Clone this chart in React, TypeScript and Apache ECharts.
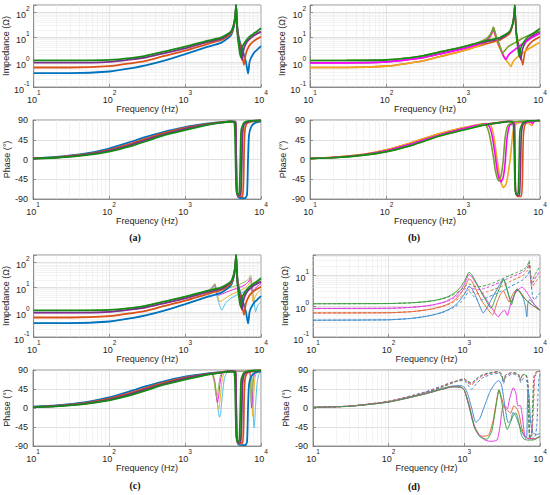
import React, { useEffect, useRef } from 'react';
import * as echarts from 'echarts';

// ---------- tick values ----------
const FREQ_MINOR = [20, 30, 40, 50, 60, 70, 80, 90, 200, 300, 400, 500, 600, 700, 800, 900, 2000, 3000, 4000, 5000, 6000, 7000, 8000, 9000];
const IMP_MINOR = [0.2, 0.3, 0.4, 0.5, 0.6, 0.7, 0.8, 0.9, 2, 3, 4, 5, 6, 7, 8, 9, 20, 30, 40, 50, 60, 70, 80, 90];
const IMP_MINOR_D = [0.2, 0.3, 0.4, 0.5, 0.6, 0.7, 0.8, 0.9, 2, 3, 4, 5, 6, 7, 8, 9, 20, 30, 40];
const CAPTIONS = ['(a)', '(b)', '(c)', '(d)'];

// ---------- panel (a) & shared solid curves: impedance [Hz, Ohm] ----------
const IMP_BLUE = [[10,0.36],[30,0.36],[100,0.42],[200,0.58],[300,0.74],[500,1.1],[1000,2.1],[2000,4.2],[3000,6.1],[4000,12],[4400,28],[4600,75],[4690,185],[4760,70],[4900,20],[5200,7.5],[5700,3],[6300,1.1],[6750,0.35],[7100,1.1],[8000,2.3],[9000,3.3],[10000,4.4]];
const IMP_ORANGE = [[10,0.61],[30,0.61],[100,0.69],[200,0.92],[300,1.13],[500,1.7],[1000,2.9],[2000,5.5],[3000,7.8],[4000,14],[4400,31],[4600,80],[4690,190],[4760,72],[4900,18],[5200,6],[5600,2],[5960,0.78],[6300,2.2],[7000,4.6],[8000,7],[9000,8.8],[10000,10.5]];
const IMP_PURPLE = [[10,0.95],[30,0.95],[100,1.03],[200,1.3],[300,1.54],[500,2.2],[1000,3.6],[2000,6.5],[3000,8.8],[4000,16],[4400,34],[4600,85],[4690,195],[4760,75],[4900,16],[5200,4.5],[5600,1.25],[5900,3.2],[6500,6.5],[7500,10],[8500,13],[10000,17]];
const IMP_GREEN = [[10,1.17],[30,1.18],[100,1.24],[200,1.5],[300,1.8],[500,2.6],[1000,4.2],[2000,7.3],[3000,9.9],[4000,17],[4400,36],[4600,90],[4690,200],[4760,78],[4900,13],[5100,4.5],[5370,1.6],[5600,3.6],[6000,5.8],[7000,10.5],[8000,14],[9000,18],[10000,23]];

// phase [Hz, deg]
const PH_BLUE = [[10,3],[20,6],[50,14],[100,25],[200,41],[300,51],[500,62],[1000,74],[2000,82],[3000,85],[4000,87],[4600,86],[4690,40],[4760,-40],[4850,-78],[5100,-87],[6200,-88],[6550,-80],[6750,0],[6950,55],[7500,76],[8500,84],[10000,87]];
const PH_ORANGE = [[10,2.5],[20,5],[50,12],[100,22],[200,37],[300,47],[500,59],[1000,72],[2000,81],[3000,85],[4000,87],[4600,86],[4690,30],[4760,-50],[4850,-78],[5100,-84],[5700,-84],[5880,-50],[5960,0],[6100,60],[6500,82],[8000,87],[10000,89]];
const PH_PURPLE = [[10,2.2],[20,4.5],[50,11],[100,20],[200,34],[300,44],[500,56],[1000,70],[2000,80],[3000,84],[4000,87],[4600,85],[4690,25],[4760,-55],[4850,-77],[5100,-82],[5400,-80],[5530,-40],[5600,0],[5700,55],[6000,80],[7000,87],[10000,89]];
const PH_GREEN = [[10,2],[20,4],[50,10],[100,18],[200,31],[300,41],[500,54],[1000,67],[2000,79],[3000,84],[4000,86],[4450,84],[4560,50],[4650,-20],[4760,-72],[5000,-80],[5200,-76],[5300,-30],[5370,15],[5500,68],[6000,84],[7000,88],[10000,89]];

// ---------- panel (b) extra curves ----------
const IMP_OLIVE_B = [[10,1.17],[30,1.18],[100,1.24],[200,1.5],[300,1.8],[500,2.6],[1000,4.2],[1500,5.9],[2000,8.8],[2250,13],[2400,20],[2470,26],[2560,18],[2720,10],[3000,4.5],[3250,2.3],[3500,3],[3850,4.2],[4700,6],[5500,8],[6300,10],[8000,14],[10000,18.5]];
const IMP_MAGENTA_B = [[10,0.93],[30,0.94],[100,1.02],[200,1.28],[300,1.52],[500,2.15],[1000,3.5],[1500,5],[2000,7.6],[2250,11.5],[2400,18],[2470,24],[2560,16],[2750,8],[3100,3.2],[3400,1.6],[3600,1.3],[3900,2],[4700,3.2],[5500,4.6],[6300,6.2],[8000,10],[10000,14.5]];
const IMP_YELLOW_B = [[10,0.61],[30,0.61],[100,0.69],[200,0.92],[300,1.13],[500,1.7],[1000,2.9],[1500,4.3],[2000,6.6],[2250,10.5],[2400,16.5],[2470,22],[2560,14],[2750,6.5],[3100,2.8],[3500,1.4],[3850,0.95],[4150,0.67],[4500,1.1],[5200,1.7],[6000,2.4],[7000,3.3],[8500,4.8],[10000,6.3]];
const PH_OLIVE_B = [[10,2],[20,4],[50,10],[100,18],[200,31],[300,41],[500,54],[1000,67],[1500,76],[1800,81],[2000,77],[2150,62],[2300,38],[2470,5],[2650,-30],[2900,-49],[3100,-38],[3300,-5],[3500,48],[3800,77],[4500,86],[10000,89]];
const PH_MAGENTA_B = [[10,2.2],[20,4.5],[50,11],[100,20],[200,34],[300,44],[500,56],[1000,70],[1500,78],[2000,81],[2200,74],[2400,50],[2600,10],[2800,-30],[3080,-51],[3300,-42],[3500,-10],[3700,45],[4000,77],[5000,86],[7500,86],[8000,82],[8500,88],[10000,89]];
const PH_YELLOW_B = [[10,2.5],[20,5],[50,12],[100,22],[200,37],[300,47],[500,59],[1000,72],[1500,79],[2000,82],[2300,76],[2500,52],[2700,12],[3000,-40],[3330,-64],[3600,-57],[3850,-30],[4150,10],[4400,58],[4800,80],[6000,86],[7000,84],[7800,77],[8300,88],[10000,89]];

// ---------- panel (c) extra (thin) curves ----------
const IMP_LBLUE_C = [[10,0.36],[30,0.36],[100,0.42],[200,0.58],[300,0.74],[500,1.1],[1000,2.1],[2000,4.4],[2300,7],[2460,12],[2560,6],[2750,2.6],[3040,1.2],[3400,2.3],[4000,3.6],[5000,5.2],[6000,6.8],[6800,8],[7500,11],[7900,5],[8500,1.05],[9000,1.8],[10000,2.6]];
const IMP_YELLOW_C = [[10,0.61],[30,0.61],[100,0.69],[200,0.92],[300,1.13],[500,1.7],[1000,2.9],[2000,5.7],[2300,9],[2460,13],[2560,7.5],[2870,2.6],[3300,3.5],[4000,5],[5000,6.8],[6000,9],[6800,12.5],[7300,19],[7550,9],[7800,2.6],[8300,4],[9000,6],[10000,8]];
const IMP_MAGENTA_C = [[10,0.95],[30,0.95],[100,1.03],[200,1.3],[300,1.54],[500,2.2],[1000,3.6],[2000,6.7],[2300,10],[2460,13.5],[2560,8.5],[2760,4.8],[3100,5.5],[4000,7.5],[5000,9.5],[6000,12],[6800,16.5],[7300,24],[7500,12],[7700,6.5],[8200,8.5],[9000,11],[10000,14.5]];
const IMP_LGREEN_C = [[10,1.17],[30,1.18],[100,1.24],[200,1.5],[300,1.8],[500,2.6],[1000,4.2],[2000,7.5],[2300,11],[2460,14],[2560,10],[2690,6.9],[3000,7.8],[4000,10],[5000,12.5],[6000,16],[6800,21],[7300,30],[7500,20],[7750,12],[8200,13],[9000,16],[10000,20]];
const PH_LBLUE_C = [[10,3],[20,6],[50,14],[100,25],[200,41],[300,51],[500,62],[1000,74],[2000,82],[2250,83],[2450,65],[2600,30],[2750,-10],[2850,-22],[2950,-10],[3100,30],[3300,70],[3600,84],[5000,87],[7000,86],[7500,70],[7800,10],[8000,-35],[8100,-47],[8250,-35],[8500,10],[8900,60],[9400,80],[10000,86]];
const PH_YELLOW_C = [[10,2.5],[20,5],[50,12],[100,22],[200,37],[300,47],[500,59],[1000,72],[2000,81],[2250,83],[2450,68],[2600,30],[2700,5],[2780,-3],[2880,15],[3050,60],[3300,83],[5000,87],[7000,86],[7350,60],[7600,5],[7750,-20],[7900,0],[8200,60],[8700,84],[10000,88]];
const PH_MAGENTA_C = [[10,2.2],[20,4.5],[50,11],[100,20],[200,34],[300,44],[500,56],[1000,70],[2000,80],[2250,83],[2430,65],[2570,30],[2680,13],[2780,30],[2950,70],[3200,85],[5000,87],[7000,86],[7300,55],[7500,0],[7650,15],[7900,65],[8400,85],[10000,88]];
const PH_LGREEN_C = [[10,2],[20,4],[50,10],[100,18],[200,31],[300,41],[500,54],[1000,67],[2000,79],[2200,83],[2400,65],[2530,35],[2620,25],[2720,40],[2880,72],[3100,85],[5000,87],[7000,86],[7250,55],[7420,12],[7570,30],[7800,70],[8200,85],[10000,88]];

// ---------- panel (d): solid ----------
const IMP_BLUE_D = [[10,0.35],[100,0.36],[200,0.4],[300,0.46],[400,0.53],[500,0.62],[600,0.75],[700,0.92],[800,1.2],[900,1.7],[1000,2.4],[1080,3.4],[1150,4.3],[1250,3.8],[1400,2.2],[1600,1.0],[1780,0.6],[2000,0.9],[2300,1.7],[2700,3.5],[3000,5.5],[3270,7.6],[3500,5],[3800,2.5],[4250,1.35],[4600,2.4],[5000,3.5],[5400,3],[6000,1.8],[6400,1],[6700,0.45],[6900,1.2],[7300,1.6],[8500,1.1],[10000,0.72]];
const IMP_ORANGE_D = [[10,0.6],[100,0.61],[200,0.66],[300,0.74],[400,0.84],[500,0.97],[600,1.15],[700,1.4],[800,1.85],[900,2.6],[1000,3.9],[1080,5.8],[1150,7.6],[1250,6.5],[1400,3.8],[1700,1.5],[2000,0.85],[2370,0.52],[2700,1.3],[3000,2.4],[3270,3.1],[3600,2],[3900,1.35],[4400,2.5],[5000,3.6],[5600,2.7],[6500,1.6],[8000,1.05],[10000,0.74]];
const IMP_MAGENTA_D = [[10,0.84],[100,0.85],[200,0.91],[300,1.0],[400,1.12],[500,1.28],[600,1.5],[700,1.85],[800,2.4],[900,3.4],[1000,5.1],[1080,7.8],[1150,10.5],[1250,9],[1400,5.8],[1700,2.8],[2000,1.5],[2400,0.75],[2800,0.45],[3100,0.62],[3400,0.73],[3700,0.5],[4100,1.2],[4700,2.6],[5300,3.6],[5800,4.1],[6500,3.1],[7500,1.8],[8500,1.1],[10000,0.74]];
const IMP_GREEN_D = [[10,1.19],[100,1.21],[200,1.28],[300,1.38],[400,1.52],[500,1.72],[600,2.0],[700,2.45],[800,3.1],[900,4.3],[1000,6.3],[1080,9.5],[1150,12.5],[1250,10.5],[1400,6.5],[1700,2.6],[2000,1.3],[2250,0.85],[2600,1.9],[3000,4.5],[3300,7.5],[3600,4.2],[4000,1.6],[4200,1.1],[4500,2],[4950,3.5],[5500,2.6],[6500,1.6],[8000,1.05],[10000,0.74]];
// panel (d): dashed
const IMP_BLUE_DD = [[10,0.35],[100,0.36],[200,0.4],[300,0.46],[400,0.53],[500,0.61],[600,0.72],[700,0.86],[800,1.05],[900,1.35],[1000,1.8],[1150,3.0],[1300,2.2],[1500,1.6],[1750,1.6],[2000,1.9],[2500,2.4],[3000,3],[3300,3.2],[3500,3.5],[4000,4.2],[5000,5.6],[6000,7.2],[6800,10],[7300,14],[7600,6],[8000,2],[8500,1.6],[9200,2.1],[10000,2.7]];
const IMP_ORANGE_DD = [[10,0.6],[100,0.61],[200,0.66],[300,0.74],[400,0.83],[500,0.95],[600,1.1],[700,1.3],[800,1.6],[900,2.0],[1000,2.6],[1150,3.4],[1300,2.8],[1500,2.5],[1750,2.6],[2000,2.9],[2500,3.5],[3000,4.2],[3300,4.6],[3500,5.1],[4000,6.2],[5000,8],[6000,10],[6800,14],[7200,23],[7500,8],[7800,4],[8500,5.5],[9200,7.2],[10000,9.3]];
const IMP_MAGENTA_DD = [[10,0.84],[100,0.85],[200,0.91],[300,1.0],[400,1.11],[500,1.25],[600,1.45],[700,1.72],[800,2.1],[900,2.7],[1000,3.5],[1150,4.3],[1300,3.7],[1500,3.4],[1750,3.6],[2000,4],[2500,4.9],[3000,6],[3300,6.6],[3500,7.2],[4000,8.3],[5000,10.5],[6000,12.8],[6800,17],[7200,26],[7500,10],[7800,5],[8500,7.5],[9200,10],[10000,14]];
const IMP_GREEN_DD = [[10,1.19],[100,1.21],[200,1.28],[300,1.38],[400,1.5],[500,1.68],[600,1.92],[700,2.25],[800,2.7],[900,3.3],[1000,4.2],[1150,5.2],[1300,4.5],[1500,4.2],[1750,4.4],[2000,4.8],[2500,5.8],[3000,7.2],[3300,8],[3500,8.6],[4000,9.8],[5000,12.5],[6000,15],[6800,20],[7200,30],[7500,12],[7800,6],[8500,10],[9200,14],[10000,19.5]];

const PH_BLUE_D = [[10,1.5],[30,4.5],[100,15],[300,35],[500,46],[700,52],[900,53],[1000,49],[1100,35],[1250,0],[1420,-34],[1600,-25],[1850,5],[2200,40],[2600,60],[2850,65],[3100,55],[3300,25],[3500,-5],[3800,-35],[4100,-30],[4400,-10],[4800,-20],[5300,-40],[5900,-60],[6500,-72],[6700,-65],[6800,0],[6950,45],[7150,30],[7500,-30],[8000,-58],[9000,-63],[10000,-60]];
const PH_ORANGE_D = [[10,1.5],[30,4.5],[100,15],[300,34],[500,45],[700,51],[900,50],[1000,42],[1150,10],[1350,-40],[1550,-62],[1750,-67],[2100,-64],[2400,-30],[2650,15],[2870,43],[3100,25],[3400,0],[3700,-5],[4100,-12],[4500,5],[4900,0],[5300,-15],[5700,-45],[6200,-65],[7000,-72],[8500,-73],[10000,-68]];
const PH_GREEN_D = [[10,1.5],[30,4],[100,14],[300,33],[500,44],[700,50],[900,49],[1000,42],[1150,5],[1350,-45],[1600,-68],[1980,-74],[2300,-55],[2600,0],[2870,43],[3100,18],[3400,-30],[3700,-51],[4100,-32],[4500,-15],[4800,-12],[5200,-30],[5700,-65],[6200,-74],[7000,-76],[8500,-75],[10000,-66]];
const PH_MAGENTA_D = [[10,1.5],[30,4],[100,14],[300,33],[500,44],[700,50],[900,49],[1000,42],[1150,5],[1400,-50],[1800,-74],[2200,-79],[2700,-76],[2950,-45],[3200,0],[3450,5],[3700,-2],[4000,25],[4450,48],[4800,35],[5100,5],[5500,6],[5800,-15],[6300,-65],[7000,-73],[8500,-73],[10000,-68]];
const PH_BLUE_DD = [[10,1.5],[30,4.5],[100,16],[300,38],[500,52],[700,62],[1000,65],[1100,55],[1250,45],[1450,58],[1700,70],[2200,79],[2800,82],[3100,76],[3300,58],[3500,72],[4000,78],[4500,80],[5200,75],[5600,60],[6000,70],[6600,66],[7000,30],[7200,-40],[7500,-72],[8500,-70],[9100,-40],[9400,30],[9700,70],[10000,80]];
const PH_ORANGE_DD = [[10,1.5],[30,4.5],[100,16],[300,37],[500,51],[700,61],[1000,68],[1100,60],[1250,55],[1450,66],[1700,75],[2200,82],[2800,85],[3100,79],[3300,62],[3500,76],[4000,81],[4500,82],[5200,78],[5500,65],[5800,76],[6500,76],[7000,50],[7200,-30],[7400,-70],[7800,-65],[8200,0],[8500,70],[9000,84],[10000,88]];
const PH_MAGENTA_DD = [[10,1.5],[30,4],[100,15],[300,36],[500,50],[700,60],[1000,69],[1100,62],[1250,58],[1450,68],[1700,77],[2200,83],[2800,86],[3100,80],[3300,63],[3500,77],[4000,82],[4500,83],[5200,79],[5500,66],[5800,77],[6500,78],[6950,55],[7150,-30],[7350,-72],[7700,-65],[8100,0],[8400,72],[9000,85],[10000,88]];
const PH_GREEN_DD = [[10,1.5],[30,4],[100,15],[300,35],[500,49],[700,59],[1000,70],[1100,63],[1250,60],[1450,70],[1700,78],[2200,84],[2800,86],[3100,81],[3300,64],[3500,78],[4000,83],[4500,84],[5200,80],[5500,68],[5800,78],[6500,80],[6900,60],[7100,-35],[7300,-73],[7700,-62],[8000,10],[8300,75],[9000,86],[10000,88]];

// ---------- styling ----------
const FONT = '"Liberation Sans", Arial, Helvetica, sans-serif';
const TXT = '#262626';
const AXC = '#7a7a7a';
const C = {
  blue: '#0072BD', orange: '#D95319', purple: '#7E2F8E', green: '#158A15',
  olive: '#6FA52B', magenta: '#FF00FF', yellow: '#F0A81A',
  lblue: '#4DBEEE', yellowC: '#EDB120', magentaC: '#E520E5', lgreen: '#8CC350',
  blueD: '#3E8ED0', orangeD: '#E2683C', magentaD: '#E33FE3', greenD: '#3E9E3E',
};

const RICH = {
  b: { fontSize: 9, fontFamily: FONT, color: TXT, lineHeight: 15, verticalAlign: 'bottom' },
  s: { fontSize: 6.5, fontFamily: FONT, color: TXT, lineHeight: 8, verticalAlign: 'top' },
};
function supLabel(v: number) {
  const e = Math.log10(v);
  const r = Math.round(e);
  if (Math.abs(e - r) > 1e-6) return '';
  return `{b|10}{s|${r}}`;
}

type Line = { d: number[][]; c: string; w: number; dash?: boolean };

const GRIDS = [
  { left: 33, top: 5, width: 228, height: 82, kind: 'imp', max: 200 },
  { left: 33, top: 120, width: 228, height: 79, kind: 'ph' },
  { left: 310, top: 5, width: 230, height: 82, kind: 'imp', max: 200 },
  { left: 310, top: 120, width: 230, height: 79, kind: 'ph' },
  { left: 33, top: 255, width: 228, height: 82, kind: 'imp', max: 200 },
  { left: 33, top: 370, width: 228, height: 76, kind: 'ph' },
  { left: 313, top: 255, width: 227, height: 82, kind: 'imp', max: 45 },
  { left: 313, top: 370, width: 227, height: 76, kind: 'ph' },
];

const W1 = 1.8;
const W2 = 1.6;
const LINES: Line[][] = [
  [
    { d: IMP_BLUE, c: C.blue, w: W1 }, { d: IMP_ORANGE, c: C.orange, w: W1 },
    { d: IMP_PURPLE, c: C.purple, w: W1 }, { d: IMP_GREEN, c: C.green, w: W1 },
  ],
  [
    { d: PH_BLUE, c: C.blue, w: W1 }, { d: PH_ORANGE, c: C.orange, w: W1 },
    { d: PH_PURPLE, c: C.purple, w: W1 }, { d: PH_GREEN, c: C.green, w: W1 },
  ],
  [
    { d: IMP_ORANGE, c: C.orange, w: W2 }, { d: IMP_YELLOW_B, c: C.yellow, w: W2 },
    { d: IMP_PURPLE, c: C.purple, w: W2 }, { d: IMP_MAGENTA_B, c: C.magenta, w: W2 },
    { d: IMP_OLIVE_B, c: C.olive, w: W2 }, { d: IMP_GREEN, c: C.green, w: W2 },
  ],
  [
    { d: PH_ORANGE, c: C.orange, w: W2 }, { d: PH_YELLOW_B, c: C.yellow, w: W2 },
    { d: PH_PURPLE, c: C.purple, w: W2 }, { d: PH_MAGENTA_B, c: C.magenta, w: W2 },
    { d: PH_OLIVE_B, c: C.olive, w: W2 }, { d: PH_GREEN, c: C.green, w: W2 },
  ],
  [
    { d: IMP_LBLUE_C, c: C.lblue, w: 1 }, { d: IMP_YELLOW_C, c: C.yellowC, w: 1 },
    { d: IMP_MAGENTA_C, c: C.magentaC, w: 1 }, { d: IMP_LGREEN_C, c: C.lgreen, w: 1 },
    { d: IMP_BLUE, c: C.blue, w: W1 }, { d: IMP_ORANGE, c: C.orange, w: W1 },
    { d: IMP_PURPLE, c: C.purple, w: W1 }, { d: IMP_GREEN, c: C.green, w: W1 },
  ],
  [
    { d: PH_LBLUE_C, c: C.lblue, w: 1 }, { d: PH_YELLOW_C, c: C.yellowC, w: 1 },
    { d: PH_MAGENTA_C, c: C.magentaC, w: 1 }, { d: PH_LGREEN_C, c: C.lgreen, w: 1 },
    { d: PH_BLUE, c: C.blue, w: W1 }, { d: PH_ORANGE, c: C.orange, w: W1 },
    { d: PH_PURPLE, c: C.purple, w: W1 }, { d: PH_GREEN, c: C.green, w: W1 },
  ],
  [
    { d: IMP_BLUE_DD, c: C.blueD, w: 1, dash: true }, { d: IMP_ORANGE_DD, c: C.orangeD, w: 1, dash: true },
    { d: IMP_MAGENTA_DD, c: C.magentaD, w: 1, dash: true }, { d: IMP_GREEN_DD, c: C.greenD, w: 1, dash: true },
    { d: IMP_BLUE_D, c: C.blueD, w: 1 }, { d: IMP_ORANGE_D, c: C.orangeD, w: 1 },
    { d: IMP_MAGENTA_D, c: C.magentaD, w: 1 }, { d: IMP_GREEN_D, c: C.greenD, w: 1 },
  ],
  [
    { d: PH_BLUE_DD, c: C.blueD, w: 1, dash: true }, { d: PH_ORANGE_DD, c: C.orangeD, w: 1, dash: true },
    { d: PH_MAGENTA_DD, c: C.magentaD, w: 1, dash: true }, { d: PH_GREEN_DD, c: C.greenD, w: 1, dash: true },
    { d: PH_BLUE_D, c: C.blueD, w: 1 }, { d: PH_ORANGE_D, c: C.orangeD, w: 1 },
    { d: PH_MAGENTA_D, c: C.magentaD, w: 1 }, { d: PH_GREEN_D, c: C.greenD, w: 1 },
  ],
];

function buildOption() {
  const grid = GRIDS.map((g) => ({
    left: g.left, top: g.top, width: g.width, height: g.height,
    show: true, borderColor: AXC, borderWidth: 0.8, backgroundColor: 'transparent',
  }));
  const xAxis = GRIDS.map((g, i) => ({
    type: 'log', logBase: 10, gridIndex: i, min: 10, max: 10000, position: 'bottom',
    name: 'Frequency (Hz)', nameLocation: 'middle', nameGap: 16,
    nameTextStyle: { fontSize: 9, color: TXT, fontFamily: FONT },
    axisLine: { show: true, onZero: false, lineStyle: { color: AXC, width: 0.8 } },
    axisTick: { show: true, inside: true, length: 3, lineStyle: { color: AXC, width: 0.8 } },
    axisLabel: { margin: 2, formatter: supLabel, rich: RICH, showMinLabel: true, showMaxLabel: true },
    splitLine: { show: true, lineStyle: { color: '#d4d4d4', width: 0.7 } },
  }));
  const yAxis = GRIDS.map((g, i) => {
    const base = {
      gridIndex: i, nameLocation: 'middle', position: 'left',
      nameTextStyle: { fontSize: 9, color: TXT, fontFamily: FONT },
      axisLine: { show: true, onZero: false, lineStyle: { color: AXC, width: 0.8 } },
      axisTick: { show: true, inside: true, length: 3, lineStyle: { color: AXC, width: 0.8 } },
      splitLine: { show: true, lineStyle: { color: '#d4d4d4', width: 0.7 } },
    };
    const gap = g.left > 300 ? 23 : 22;
    if (g.kind === 'imp') {
      return {
        ...base, type: 'log', logBase: 10, min: 0.1, max: g.max,
        name: 'Impedance (Ω)', nameGap: gap,
        axisLabel: { margin: 4, formatter: supLabel, rich: RICH },
      };
    }
    return {
      ...base, type: 'value', min: -90, max: 90, interval: 45,
      name: 'Phase (°)', nameGap: gap,
      axisLabel: { margin: 5, fontSize: 9, color: TXT, fontFamily: FONT },
    };
  });

  const series: any[] = [];
  LINES.forEach((lines, gi) => {
    const g = GRIDS[gi];
    const minorY = g.kind === 'imp' ? (g.max === 45 ? IMP_MINOR_D : IMP_MINOR) : [];
    lines.forEach((ln, li) => {
      const s: any = {
        type: 'line', xAxisIndex: gi, yAxisIndex: gi, data: ln.d,
        showSymbol: false, symbol: 'none', smooth: 0.2, clip: true,
        lineStyle: { color: ln.c, width: ln.w, type: ln.dash ? [3, 2] : 'solid' },
        itemStyle: { color: ln.c }, silent: true, z: 2 + li * 0.01,
      };
      if (li === 0) {
        s.markLine = {
          silent: true, symbol: ['none', 'none'], z: 1, animation: false,
          label: { show: false }, emphasis: { disabled: true },
          lineStyle: { color: '#ebebeb', width: 0.6, type: 'solid' },
          data: [
            ...FREQ_MINOR.map((f) => ({ xAxis: f })),
            ...minorY.map((v) => ({ yAxis: v })),
          ],
        };
      }
      series.push(s);
    });
  });

  const capPos = [[135, 237], [414, 237], [135, 485], [414, 486]];
  const graphic = CAPTIONS.map((t, i) => ({
    type: 'text', x: capPos[i][0], y: capPos[i][1], silent: true,
    style: {
      text: t, fontSize: 10, fontWeight: 'bold', fontFamily: '"Liberation Serif", "Times New Roman", serif',
      fill: '#111', align: 'center', verticalAlign: 'middle',
    },
  }));

  return { animation: false, backgroundColor: '#ffffff', grid, xAxis, yAxis, series, graphic };
}

export default function App() {
  const ref = useRef<HTMLDivElement>(null);
  useEffect(() => {
    if (!ref.current) return;
    const chart = echarts.init(ref.current, undefined, { renderer: 'svg' });
    chart.setOption(buildOption() as any);
    return () => chart.dispose();
  }, []);
  return (
    <div
      ref={ref}
      style={{ position: 'absolute', left: 0, top: 0, width: 550, height: 495, background: '#fff' }}
    />
  );
}
